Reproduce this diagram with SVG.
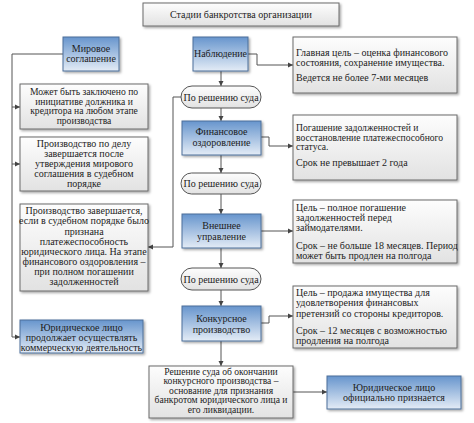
<svg xmlns="http://www.w3.org/2000/svg" width="474" height="423" viewBox="0 0 474 423">
<defs>
<linearGradient id="gBlue" x1="0" y1="0" x2="0" y2="1">
<stop offset="0" stop-color="#6795cd"/>
<stop offset="1" stop-color="#e4ecf6"/>
</linearGradient>
<linearGradient id="gGray" x1="0" y1="0" x2="0" y2="1">
<stop offset="0" stop-color="#fdfdfd"/>
<stop offset="1" stop-color="#e2e2e2"/>
</linearGradient>
<marker id="arr" markerUnits="userSpaceOnUse" markerWidth="6" markerHeight="6" refX="5" refY="3" orient="auto">
<path d="M0,0.5 L5,3 L0,5.5 Z" fill="#444"/>
</marker>
<filter id="sh" x="-10%" y="-10%" width="130%" height="140%">
<feDropShadow dx="1.5" dy="1.5" stdDeviation="0.8" flood-color="#000" flood-opacity="0.35"/>
</filter>
</defs>
<style>
text{font-family:"Liberation Serif","DejaVu Serif",serif;font-size:10px;fill:#1c1c1c}
.c{text-anchor:middle}
.s{font-size:9.6px}
.gray{fill:url(#gGray);stroke:#6a6a6a;stroke-width:1;filter:url(#sh)}
.blue{fill:url(#gBlue);stroke:#4d6f99;stroke-width:1;filter:url(#sh)}
.pill{fill:url(#gGray);stroke:#555;stroke-width:1}
.ln{fill:none;stroke:#555;stroke-width:1;marker-end:url(#arr)}
.lnn{fill:none;stroke:#555;stroke-width:1}
</style>
<rect width="474" height="423" fill="#fff"/>

<g id="title">
<rect class="gray" x="143" y="3" width="196" height="23"/>
<text class="c" x="241" y="18">Стадии банкротства организации</text>
</g>

<g id="connectors">
<path class="lnn" d="M63,54 H12 V337"/>
<path class="ln" d="M12,107 H20"/>
<path class="ln" d="M12,164 H20"/>
<path class="ln" d="M12,337 H20"/>
<path class="ln" d="M181,97 H173 V247 H148"/>
<path class="ln" d="M221,71 V86"/>
<path class="ln" d="M221,108 V121"/>
<path class="ln" d="M221,155 V173"/>
<path class="ln" d="M221,194 V214"/>
<path class="ln" d="M221,248 V268"/>
<path class="ln" d="M221,290 V306"/>
<path class="ln" d="M221,341 V366"/>
<path class="ln" d="M248,54 H257 V65 H293"/>
<path class="ln" d="M261,137 H269 V146 H293"/>
<path class="ln" d="M261,231 H293"/>
<path class="ln" d="M261,323 H269 V316 H293"/>
<path class="ln" d="M293,392 H327"/>
</g>

<g id="mirovoe">
<rect class="blue" x="63" y="37" width="56" height="34"/>
<text class="c" x="91" y="51.5">Мировое</text>
<text class="c" x="91" y="62">соглашение</text>
</g>

<g id="left1">
<rect class="gray" x="20" y="84" width="128" height="45"/>
<text class="c s" x="84" y="95">Может быть заключено по</text>
<text class="c s" x="84" y="104.6">инициативе должника и</text>
<text class="c s" x="84" y="114.2">кредитора на любом этапе</text>
<text class="c s" x="84" y="123.8">производства</text>
</g>

<g id="left2">
<rect class="gray" x="20" y="137" width="128" height="54"/>
<text class="c" x="84" y="146.5">Производство по делу</text>
<text class="c" x="84" y="156.5">завершается после</text>
<text class="c" x="84" y="166.5">утверждения мирового</text>
<text class="c" x="84" y="176.5">соглашения в судебном</text>
<text class="c" x="84" y="186.5">порядке</text>
</g>

<g id="left3">
<rect class="gray" x="20" y="204" width="128" height="87"/>
<text class="c" x="84" y="214">Производство завершается,</text>
<text class="c" x="84" y="224">если в судебном порядке было</text>
<text class="c" x="84" y="234.5">признана</text>
<text class="c" x="84" y="244.5">платежеспособность</text>
<text class="c" x="84" y="255">юридического лица. На этапе</text>
<text class="c" x="84" y="265">финансового оздоровления –</text>
<text class="c" x="84" y="275">при полном погашении</text>
<text class="c" x="84" y="285">задолженностей</text>
</g>

<g id="left4">
<rect class="blue" x="20" y="320" width="123" height="33"/>
<text class="c" x="81.5" y="330.5">Юридическое лицо</text>
<text class="c" x="81.5" y="340.5">продолжает осуществлять</text>
<text class="c" x="81.5" y="350.5">коммерческую деятельность</text>
</g>

<g id="nabl">
<rect class="blue" x="193" y="37" width="55" height="34"/>
<text class="c" x="220.5" y="56.5">Наблюдение</text>
</g>

<g id="pill1">
<rect class="pill" x="181" y="86" width="80" height="22" rx="11"/>
<text class="c" x="221" y="100.5">По решению суда</text>
</g>

<g id="fin">
<rect class="blue" x="182" y="121" width="79" height="34"/>
<text class="c" x="221.5" y="134.5">Финансовое</text>
<text class="c" x="221.5" y="145.5">оздоровление</text>
</g>

<g id="pill2">
<rect class="pill" x="181" y="173" width="80" height="21" rx="10.5"/>
<text class="c" x="221" y="187">По решению суда</text>
</g>

<g id="vnesh">
<rect class="blue" x="182" y="214" width="79" height="34"/>
<text class="c" x="221.5" y="229">Внешнее</text>
<text class="c" x="221.5" y="240">управление</text>
</g>

<g id="pill3">
<rect class="pill" x="181" y="268" width="80" height="22" rx="11"/>
<text class="c" x="221" y="282.5">По решению суда</text>
</g>

<g id="konk">
<rect class="blue" x="182" y="306" width="79" height="35"/>
<text class="c" x="221.5" y="321.5">Конкурсное</text>
<text class="c" x="221.5" y="332.5">производство</text>
</g>

<g id="final">
<rect class="gray" x="149" y="366" width="144" height="52"/>
<text class="c s" x="221" y="374.5">Решение суда об окончании</text>
<text class="c s" x="221" y="384.1">конкурсного производства –</text>
<text class="c s" x="221" y="393.7">основание для признания</text>
<text class="c s" x="221" y="403.3">банкротом юридического лица и</text>
<text class="c s" x="221" y="412.9">его ликвидации.</text>
</g>

<g id="right1">
<rect class="gray" x="293" y="37" width="164" height="56"/>
<text x="296" y="55.5">Главная цель – оценка финансового</text>
<text x="296" y="65.5">состояния, сохранение имущества.</text>
<text x="296" y="80.5">Ведется не более 7-ми месяцев</text>
</g>

<g id="right2">
<rect class="gray" x="293" y="115" width="164" height="65"/>
<text class="s" x="296" y="131">Погашение задолженностей и</text>
<text class="s" x="296" y="140.6">восстановление платежеспособного</text>
<text class="s" x="296" y="150.2">статуса.</text>
<text x="296" y="165.5">Срок не превышает 2 года</text>
</g>

<g id="right3">
<rect class="gray" x="293" y="200" width="164" height="63"/>
<text x="296" y="210.5">Цель – полное погашение</text>
<text x="296" y="220.5">задолженностей перед</text>
<text x="296" y="231">займодателями.</text>
<text x="296" y="248.5">Срок – не больше 18 месяцев. Период</text>
<text x="296" y="259">может быть продлен на полгода</text>
</g>

<g id="right4">
<rect class="gray" x="293" y="286" width="164" height="62"/>
<text x="296" y="295.5">Цель – продажа имущества для</text>
<text x="296" y="306">удовлетворения финансовых</text>
<text x="296" y="316.5">претензий со стороны кредиторов.</text>
<text x="296" y="333.5">Срок – 12 месяцев с возможностью</text>
<text x="296" y="343.5">продления на полгода</text>
</g>

<g id="right5">
<rect class="blue" x="327" y="376" width="134" height="33"/>
<text class="c" x="394" y="390.5">Юридическое лицо</text>
<text class="c" x="394" y="400.5">официально признается</text>
</g>
</svg>
